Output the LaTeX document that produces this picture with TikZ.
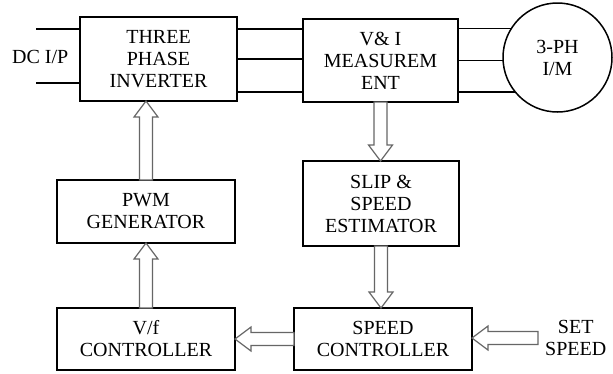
\documentclass[tikz,border=0pt]{standalone}
\usepackage{fontspec}
\setmainfont{Liberation Serif}
\usetikzlibrary{calc}
\tikzset{
  blk/.style={draw=black, line width=1.5pt, fill=white, align=center, inner sep=0pt, outer sep=0pt,
    font=\fontsize{20}{22}\selectfont},
  wire/.style={draw=black, line width=1.5pt},
  harrow/.style={draw=black!60, line width=1.2pt, fill=white, line join=miter},
  lbl/.style={align=center, inner sep=0pt, font=\fontsize{20}{22}\selectfont}
}
\newcommand\hollowarrow[2]{%
  \coordinate (hh) at ($(#2)!16pt!(#1)$);
  \draw[harrow] ($(#1)!6.5pt!90:(#2)$) -- ($(hh)!6.5pt!-90:(#1)$) -- ($(hh)!12pt!-90:(#1)$) -- (#2)
     -- ($(hh)!12pt!90:(#1)$) -- ($(hh)!6.5pt!90:(#1)$) -- ($(#1)!6.5pt!-90:(#2)$) -- cycle;}
\begin{document}
\begin{tikzpicture}[x=1pt,y=-1pt]
\useasboundingbox[fill=white] (0,0) rectangle (613,373);
% blocks
\node[blk, minimum width=157pt, minimum height=84pt] (inv) at (158.5,59) {THREE\\PHASE\\INVERTER};
\node[blk, minimum width=155pt, minimum height=83pt] (meas) at (380.5,60.5) {V\& I\\MEASUREM\\ENT};
\node[blk, circle, minimum size=109pt] (im) at (557.5,57.5) {3-PH\\I/M};
\node[blk, minimum width=156pt, minimum height=85pt] (slip) at (381,203.5) {SLIP \&\\SPEED\\ESTIMATOR};
\node[blk, minimum width=178pt, minimum height=63pt] (pwm) at (146,211.5) {PWM\\GENERATOR};
\node[blk, minimum width=178pt, minimum height=62pt] (vf) at (146,339) {V/f\\CONTROLLER};
\node[blk, minimum width=178pt, minimum height=62pt] (spd) at (383,339) {SPEED\\CONTROLLER};
\node[lbl, anchor=west] (dc) at (12,57) {DC I/P};
\node[lbl, anchor=west] (set) at (545,338) {SET\\SPEED};
% DC input lines
\coordinate (dc1) at (36,29);
\coordinate (dc2) at (36,83);
\draw[wire] (dc1) -- (dc1 -| inv.west);
\draw[wire] (dc2) -- (dc2 -| inv.west);
% inverter to measurement
\foreach \yy in {29,59,92}{
  \draw[wire] (inv.east |- 0,\yy) -- (meas.west |- 0,\yy);
}
% measurement to motor
\draw[wire] (meas.east |- im.148.5) -- (im.148.5);
\draw[wire] (meas.east |- im.183.7) -- (im.183.7);
\draw[wire] (meas.east |- im.219.3) -- (im.219.3);
% hollow arrows
\coordinate (a1s) at (pwm.north);
\coordinate (a1e) at (pwm.north |- inv.south);
\hollowarrow{a1s}{a1e}
\coordinate (a2s) at (vf.north);
\coordinate (a2e) at (vf.north |- pwm.south);
\hollowarrow{a2s}{a2e}
\coordinate (a3s) at (meas.south);
\coordinate (a3e) at (meas.south |- slip.north);
\hollowarrow{a3s}{a3e}
\coordinate (a4s) at (slip.south);
\coordinate (a4e) at (slip.south |- spd.north);
\hollowarrow{a4s}{a4e}
\coordinate (a5s) at (spd.west);
\coordinate (a5e) at (vf.east |- spd.west);
\hollowarrow{a5s}{a5e}
\coordinate (a6s) at (538,338);
\coordinate (a6e) at (spd.east |- a6s);
\hollowarrow{a6s}{a6e}
\end{tikzpicture}
\end{document}
